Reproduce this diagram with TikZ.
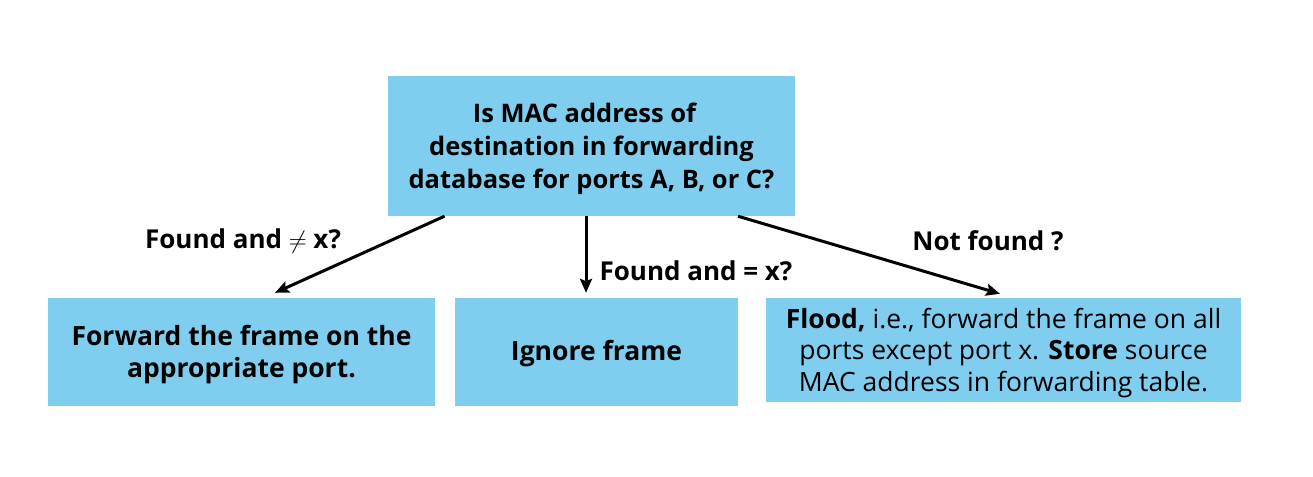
\documentclass[tikz,border=0pt]{standalone}
\usepackage{fontspec}
\setmainfont{Open Sans}
\usepackage{tikz}
\usetikzlibrary{arrows.meta}
\definecolor{boxblue}{HTML}{7FCEF0}

\begin{document}
\begin{tikzpicture}[x=1pt, y=-1pt,
		box/.style={fill=boxblue, draw=none, inner sep=0pt},
		txt/.style={align=center, inner sep=0pt, font=\fontsize{26.5}{32}\selectfont},
		lbl/.style={font=\fontsize{26}{30}\selectfont\bfseries},
		>={Stealth[length=14pt, width=12pt, inset=2.5pt]}, %Pfeilspitzen
		conn/.style={->, line width=3pt}]
	%Rahmen
	\useasboundingbox (0,0) rectangle (1313,476);
	% Kaesten
	\node[box, minimum width=407pt, minimum height=140pt] (query) at (591.5,146) {};
	\node[box, minimum width=387pt, minimum height=108pt] (fwd) at (241.5,352) {};
	\node[box, minimum width=283pt, minimum height=108pt] (ignore) at (596.5,352) {};
	\node[box, minimum width=475pt, minimum height=104pt] (flood) at (1003.5,350) {};
	% Texte in den Kaesten (yshift nach unten)
	\node[txt, font=\fontsize{25.5}{33}\selectfont\bfseries] (querytxt) at ([yshift=-3pt]query.center) {Is MAC address of\hspace*{14pt}\\ destination in forwarding\\ database for ports A, B, or C?};
	\node[txt, font=\fontsize{26.5}{32}\selectfont\bfseries] (fwdtxt) at ([yshift=-3pt]fwd.center) {Forward the frame on the\\ appropriate port.};
	\node[txt, font=\fontsize{26.5}{32}\selectfont\bfseries] (ignoretxt) at ([yshift=-2pt]ignore.center) {Ignore frame};
	\node[txt, font=\fontsize{26.5}{31.5}\selectfont] (floodtxt) at ([yshift=-3pt]flood.center) {\textbf{Flood,} i.e., forward the frame on all\\ ports except port x. \textbf{Store} source\\ MAC address in forwarding table.};
	% Pfeile
	\draw[conn] ([xshift=-147pt]query.south) -- ([xshift=33.5pt, yshift=5pt]fwd.north);
	\draw[conn] ([xshift=-5.5pt]query.south) -- ([xshift=-10.5pt, yshift=5pt]ignore.north);
	\draw[conn] ([xshift=146.5pt]query.south) -- ([xshift=-3.5pt, yshift=4pt]flood.north);
	% Beschriftung
	\node[lbl] (neq) at (243,241) {Found and $\neq$ x?};
	\node[lbl] (eq) at (696,271) {Found and = x?};
	\node[lbl] (nf) at (988,241) {Not found ?};
\end{tikzpicture}
\end{document}
